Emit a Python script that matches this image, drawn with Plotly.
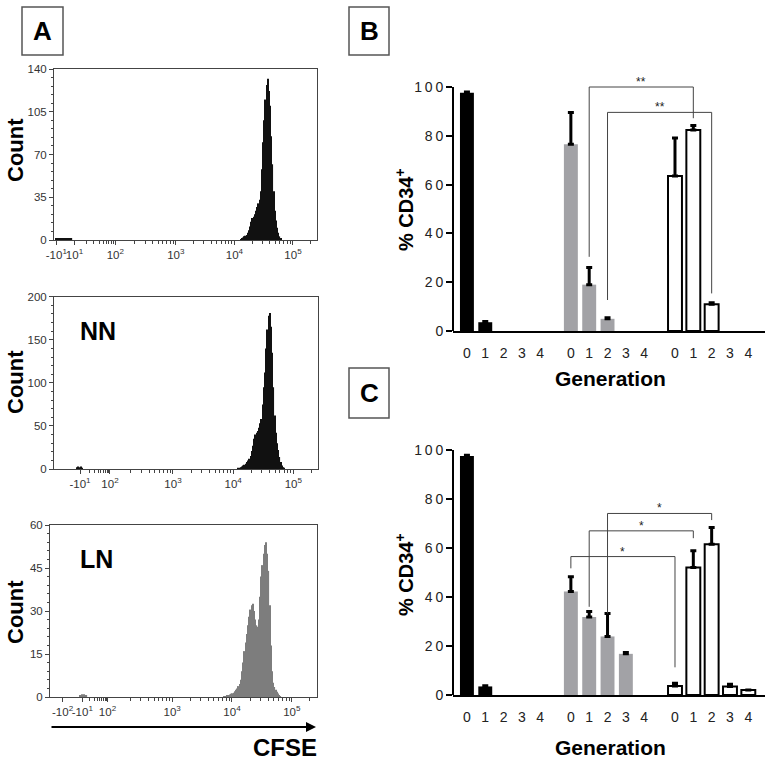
import numpy as np
import plotly.graph_objects as go

W, H = 772, 763
def px(x): return x / W
def py(y): return 1 - y / H

# ---------------- Panel A: CFSE histograms (bin centre in log10 units, count) ----------------
top_bins = [0.96, 0.98, 1.00, 1.02, 1.04, 1.06, 1.08, 1.10, 1.12, 1.14, 1.16, 1.18, 1.20, 1.22,
            4.11, 4.13, 4.15, 4.17, 4.19, 4.21, 4.23, 4.25, 4.27, 4.29, 4.31, 4.33, 4.35, 4.37,
            4.39, 4.41, 4.43, 4.45, 4.47, 4.49, 4.51, 4.53, 4.55, 4.57, 4.59, 4.61, 4.63, 4.65,
            4.67, 4.69, 4.71, 4.73, 4.75, 4.77, 4.79]
top_counts = [1.5, 1, 1.5, 1, 1, 1.5, 1, 1, 1.5, 1, 1, 1.5, 1, 1,
              0.5, 1, 2, 3, 3.5, 4, 6, 8, 11, 15, 18, 19, 21, 24,
              27, 30, 33, 40, 58, 80, 98, 115, 127, 132, 122, 110, 85, 62,
              40, 24, 16, 10, 6, 3, 1]

mid_bins = [1.41, 1.43, 1.45, 1.47, 1.49,
            4.09, 4.11, 4.13, 4.15, 4.17, 4.19, 4.21, 4.23, 4.25, 4.27, 4.29, 4.31, 4.33, 4.35,
            4.37, 4.39, 4.41, 4.43, 4.45, 4.47, 4.49, 4.51, 4.53, 4.55, 4.57, 4.59, 4.61, 4.63,
            4.65, 4.67, 4.69, 4.71, 4.73, 4.75, 4.77, 4.79, 4.81, 4.83, 4.85]
mid_counts = [2, 3, 2, 3, 1.5,
              0.5, 1, 2, 3, 4, 5, 6, 8, 10, 12, 15, 21, 27, 35,
              40, 42, 44, 48, 53, 58, 75, 95, 112, 140, 162, 178, 181, 165,
              135, 95, 62, 42, 30, 22, 14, 8, 4, 2, 1]

bot_bins = [1.47, 1.49, 1.51, 1.53, 1.55, 1.57,
            3.87, 3.89, 3.91, 3.93, 3.95, 3.97, 3.99, 4.01, 4.03, 4.05, 4.07, 4.09, 4.11, 4.13,
            4.15, 4.17, 4.19, 4.21, 4.23, 4.25, 4.27, 4.29, 4.31, 4.33, 4.35, 4.37, 4.39, 4.41,
            4.43, 4.45, 4.47, 4.49, 4.51, 4.53, 4.55, 4.57, 4.59, 4.61, 4.63, 4.65, 4.67, 4.69,
            4.71, 4.73, 4.75, 4.77, 4.79, 4.81]
bot_counts = [0.7, 1, 0.7, 1, 0.6, 0.5,
              0.2, 0.3, 0.4, 0.5, 0.7, 0.9, 1.1, 1.3, 1.5, 2, 2.5, 3, 3.8, 4.5,
              6, 9, 12, 16, 19, 22, 25, 28, 30.5, 32, 32.5, 30, 27, 25,
              24.5, 27, 35, 42, 46, 50, 53, 54, 50, 44, 32, 18, 9, 5,
              3.5, 2.5, 1.8, 1.2, 0.7, 0.3]

top_ticks = [0.96, 1.27, 1.966, 3, 4, 5]
top_ticktext = ["-10<sup>1</sup>", "10<sup>1</sup>", "10<sup>2</sup>", "10<sup>3</sup>", "10<sup>4</sup>", "10<sup>5</sup>"]
mid_ticks = [1.455, 1.953, 3, 4, 5]
mid_ticktext = ["-10<sup>1</sup>", "10<sup>2</sup>", "10<sup>3</sup>", "10<sup>4</sup>", "10<sup>5</sup>"]
bot_ticks = [1.17, 1.50, 1.92, 3, 4, 5]
bot_ticktext = ["-10<sup>2</sup>", "-10<sup>1</sup>", "10<sup>2</sup>", "10<sup>3</sup>", "10<sup>4</sup>", "10<sup>5</sup>"]

# ---------------- Panels B and C: % CD34+ by generation ----------------
generations = [0, 1, 2, 3, 4]
group_offsets = [0, 5.67, 11.35]

B_black = [97.6, 3.6, None, None, None]
B_black_err = [0.4, 0.3, 0, 0, 0]
B_gray = [76.5, 19.0, 5.0, None, None]
B_gray_err = [13.0, 7.0, 0.4, 0, 0]
B_white = [63.5, 82.4, 11.0, None, None]
B_white_err = [15.6, 1.8, 0.6, 0, 0]

C_black = [97.6, 3.5, None, None, None]
C_black_err = [0.3, 0.3, 0, 0, 0]
C_gray = [42.2, 31.8, 23.9, 16.8, None]
C_gray_err = [6.1, 2.3, 9.4, 0.5, 0]
C_white = [3.7, 52.0, 61.5, 3.5, 2.0]
C_white_err = [1.1, 6.9, 6.9, 0.9, 0]

# significance brackets: (group a, gen a, y start a, bracket top, group b, gen b, y end b, label)
B_sig = [(1, 1, 30.4, 100.0, 2, 1, 87.2, "**"),
         (1, 2, 12.7, 89.6, 2, 2, 15.4, "**")]
C_sig = [(1, 0, 51.7, 56.5, 2, 0, 11.3, "*"),
         (1, 1, 36.0, 67.0, 2, 1, 64.0, "*"),
         (1, 2, 33.3, 74.1, 2, 2, 71.4, "*")]

FONT = "Liberation Sans, Arial, sans-serif"
fig = go.Figure()

# histograms
for bins, counts, ax, color in [(top_bins, top_counts, "", "#111111"),
                                (mid_bins, mid_counts, "2", "#111111"),
                                (bot_bins, bot_counts, "3", "#7d7d7d")]:
    fig.add_trace(go.Bar(x=bins, y=counts, width=0.02, marker=dict(color=color, line=dict(width=0)),
                         xaxis="x" + ax, yaxis="y" + ax, showlegend=False, hoverinfo="skip"))

def gx(g, i):
    return group_offsets[g] + i

def add_bars(vals, errs, xa, ya, fill, outline, lw, width):
    for g in range(3):
        fig.add_trace(go.Bar(
            x=[gx(g, i) for i in generations], y=vals[g], width=width,
            marker=dict(color=fill[g], line=dict(color=outline[g], width=lw[g])),
            error_y=dict(type="data", symmetric=False, array=errs[g], arrayminus=[0] * 5,
                         thickness=3, width=3, color="black"),
            xaxis=xa, yaxis=ya, showlegend=False, hoverinfo="skip"))

fills = ["black", "#a2a2a6", "white"]
outlines = ["black", "#a2a2a6", "black"]
lws = [0, 0, 2]
add_bars([B_black, B_gray, B_white], [B_black_err, B_gray_err, B_white_err], "x4", "y4", fills, outlines, lws, 0.76)
add_bars([C_black, C_gray, C_white], [C_black_err, C_gray_err, C_white_err], "x5", "y5", fills, outlines, lws, 0.76)

annotations = []
for sig, xa, ya in [(B_sig, "x4", "y4"), (C_sig, "x5", "y5")]:
    for (ga, ia, ya0, top, gb, ib, yb0, lab) in sig:
        xa0, xb0 = gx(ga, ia), gx(gb, ib)
        fig.add_trace(go.Scatter(x=[xa0, xa0, xb0, xb0], y=[ya0, top, top, yb0], mode="lines",
                                 line=dict(color="#444444", width=1), xaxis=xa, yaxis=ya,
                                 showlegend=False, hoverinfo="skip"))
        annotations.append(dict(x=(xa0 + xb0) / 2, y=top, xref=xa, yref=ya, text=lab, showarrow=False,
                                yanchor="middle", yshift=5, font=dict(size=12, color="#222", family=FONT)))

# ---------------- layout ----------------
hist_common = dict(showline=True, mirror=True, linecolor="#444", linewidth=1, ticks="outside",
                   ticklen=4, tickcolor="#444", showgrid=False, zeroline=False, automargin=False,
                   tickangle=0, tickfont=dict(size=11.5, color="#333", family=FONT))

def minor_x(lo_anchor, hi_anchor):
    vals = []
    for m in range(2, 10):
        vals.append(lo_anchor + np.log10(m) * (hi_anchor - lo_anchor))
    for k in (2, 3, 4):
        for m in range(2, 10):
            vals.append(k + np.log10(m))
    vals.append(5 + np.log10(2))
    return [float(v) for v in vals]

layout_axes = {}
hdefs = [("", [0.92, 5.41], px(54), px(317), py(240), py(69), top_ticks, top_ticktext, 140, 35, 7, (1.27, 1.966)),
         ("2", [1.023, 5.41], px(54), px(318), py(469), py(296.7), mid_ticks, mid_ticktext, 200, 50, 10, (1.455, 1.953)),
         ("3", [0.96, 5.42], px(50), px(317), py(697), py(525), bot_ticks, bot_ticktext, 60, 15, 3, (1.50, 1.92))]
for ax, xr, x0, x1, y0, y1, tv, tt, ymax, ystep, yminor, anch in hdefs:
    layout_axes["xaxis" + ax] = dict(hist_common, domain=[x0, x1], range=xr, anchor="y" + ax,
                                     tickmode="array", tickvals=tv, ticktext=tt,
                                     minor=dict(tickmode="array", tickvals=minor_x(*anch), ticklen=2.5,
                                                ticks="outside", tickcolor="#444"))
    layout_axes["yaxis" + ax] = dict(hist_common, domain=[y0, y1], range=[0, ymax], anchor="x" + ax,
                                     tickmode="array", tickvals=list(range(0, ymax + 1, ystep)),
                                     minor=dict(dtick=yminor, ticklen=2.5, ticks="outside", tickcolor="#444"))

tick_pos = [gx(g, i) for g in range(3) for i in generations]
tick_txt = [str(i) for g in range(3) for i in generations]
ylab = ["0", "2\u20090", "4\u20090", "6\u20090", "8\u20090", "1\u20090\u20090"]
for ax, y0, y1 in [("4", py(331), py(62.6)), ("5", py(695), py(425.5))]:
    layout_axes["xaxis" + ax] = dict(domain=[px(453), px(765)], range=[-0.76, 16.26], anchor="y" + ax,
                                     showline=True, linecolor="black", linewidth=2, ticks="",
                                     tickmode="array", tickvals=tick_pos, ticktext=tick_txt,
                                     ticklabelstandoff=8,
                                     showgrid=False, zeroline=False, automargin=False, tickangle=0,
                                     tickfont=dict(size=14, color="#222", family=FONT))
    layout_axes["yaxis" + ax] = dict(domain=[y0, y1], range=[0, 110], anchor="x" + ax,
                                     showline=False, ticks="outside", ticklen=6, tickwidth=2, tickcolor="black",
                                     tickmode="array", tickvals=[0, 20, 40, 60, 80, 100], ticktext=ylab,
                                     showgrid=False, zeroline=False, automargin=False,
                                     tickfont=dict(size=14, color="#222", family=FONT))

shapes = []
for ax in ("4", "5"):
    shapes.append(dict(type="line", xref="x" + ax + " domain", yref="y" + ax, x0=0, x1=0, y0=0, y1=100,
                       line=dict(color="black", width=2)))
# panel letter boxes
for (bx0, by0, bx1, by1, letter) in [(22, 7, 63, 55, "A"), (349, 7, 389, 55, "B"), (349, 368, 389, 418, "C")]:
    shapes.append(dict(type="rect", xref="paper", yref="paper", x0=px(bx0), x1=px(bx1), y0=py(by1), y1=py(by0),
                       line=dict(color="#555", width=1.5)))
    annotations.append(dict(x=px((bx0 + bx1) / 2), y=py((by0 + by1) / 2), xref="paper", yref="paper",
                            text=letter, showarrow=False, xanchor="center", yanchor="middle",
                            font=dict(size=26, color="black", family=FONT, weight="bold")))

def lab(x, y, text, size, angle=0, xanchor="center"):
    annotations.append(dict(x=px(x), y=py(y), xref="paper", yref="paper", text=text, showarrow=False,
                            textangle=angle, xanchor=xanchor, yanchor="middle",
                            font=dict(size=size, color="black", family=FONT, weight="bold")))

lab(15, 150, "Count", 22, -90)
lab(15, 382, "Count", 22, -90)
lab(15, 612, "Count", 22, -90)
lab(78, 331, "NN", 25, xanchor="left")
lab(78, 559, "LN", 25, xanchor="left")
lab(285, 747, "CFSE", 24)
lab(404, 210, "% CD34<sup>+</sup>", 20, -90)
lab(404, 575, "% CD34<sup>+</sup>", 20, -90)
lab(610, 378, "Generation", 21)
lab(610, 747, "Generation", 21)

# CFSE arrow
annotations.append(dict(x=px(316), y=py(727), xref="paper", yref="paper", ax=-266, ay=0,
                        text="", showarrow=True, arrowhead=2, arrowsize=1, arrowwidth=2, arrowcolor="black"))

fig.update_layout(template="none", width=W, height=H, margin=dict(l=0, r=0, t=0, b=0, pad=0),
                  paper_bgcolor="white", plot_bgcolor="white", showlegend=False,
                  barmode="overlay", annotations=annotations, shapes=shapes,
                  font=dict(family=FONT), **layout_axes)

fig.write_html("out.html", config={"displayModeBar": False},
               post_script="document.body.style.margin='0px';document.body.style.overflow='hidden';")
